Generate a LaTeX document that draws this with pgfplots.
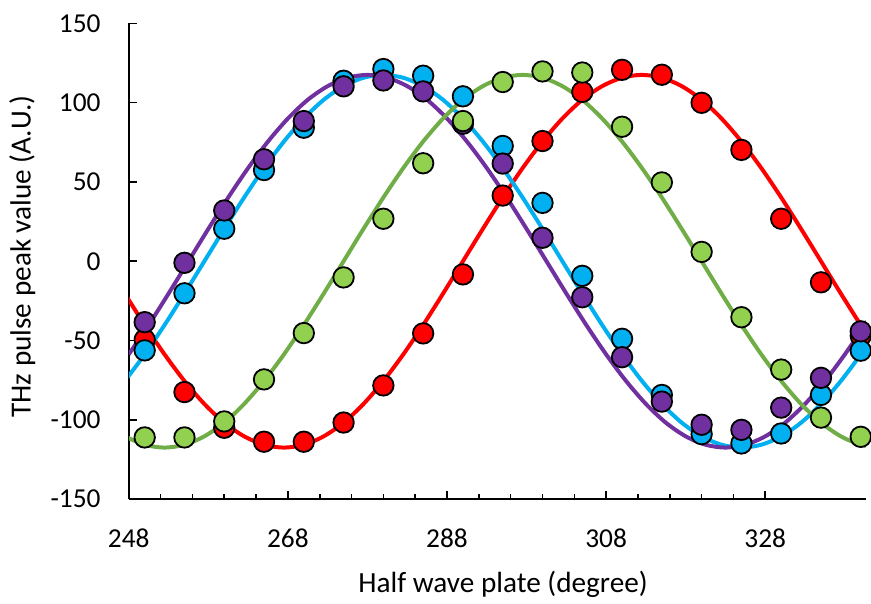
\documentclass[border=0pt]{standalone}
\usepackage{fontspec}
\setmainfont{Carlito}
\usepackage{pgfplots}
\pgfplotsset{compat=1.18}
\definecolor{cred}{HTML}{FF0000}
\definecolor{cgreen}{HTML}{92D050}
\definecolor{cgreenl}{HTML}{70AD47}
\definecolor{cblue}{HTML}{00B0F0}
\definecolor{cpurple}{HTML}{7030A0}
\pgfplotsset{
  dot/.style={only marks, mark=*, mark size=5.15pt, mark options={draw=black, line width=0.9pt, fill=#1}},
  fit/.style={#1, line width=2pt, smooth, no marks}
}
\begin{document}
\begin{tikzpicture}
\begin{axis}[
  scale only axis, width=370.5pt, height=239.25pt,
  xmin=248, xmax=340.6, ymin=-150, ymax=150,
  axis x line*=bottom, axis y line*=left,
  axis line style={line width=1pt, -},
  xtick={248,268,...,328}, minor x tick num=4,
  ytick={-150,-100,...,150},
  tick align=inside,
  major tick length=4pt, minor tick length=2.5pt,
  every tick/.style={black, line width=0.8pt},
  tick label style={font=\fontsize{13.75}{16}\selectfont},
  /pgf/number format/assume math mode=true,
  yticklabel style={anchor=east, inner sep=0pt, xshift=-14pt},
  xticklabel style={anchor=north, inner sep=0pt, yshift=-14.85pt},
  clip mode=individual,
]
% fitted curves
\addplot[fit=cred] coordinates {
(247.5,-20.4)(250,-40.2)(252.5,-58.75)(255,-75.5)(257.5,-90.0)(260,-101.8)(262.5,-110.4)(265,-115.7)(267.5,-117.5)(270,-115.7)(272.5,-110.4)(275,-101.8)(277.5,-90.0)(280,-75.5)(282.5,-58.75)(285,-40.2)(287.5,-20.4)(290,0)(292.5,20.4)(295,40.2)(297.5,58.75)(300,75.5)(302.5,90.0)(305,101.8)(307.5,110.4)(310,115.7)(312.5,117.5)(315,115.7)(317.5,110.4)(320,101.8)(322.5,90.0)(325,75.5)(327.5,58.75)(330,40.2)(332.5,20.4)(335,0)(337.5,-20.4)(340,-40.2)(342.5,-58.75)};
\addplot[fit=cblue] coordinates {
(247.5,-75.5)(250,-58.75)(252.5,-40.2)(255,-20.4)(257.5,0)(260,20.4)(262.5,40.2)(265,58.75)(267.5,75.5)(270,90.0)(272.5,101.8)(275,110.4)(277.5,115.7)(280,117.5)(282.5,115.7)(285,110.4)(287.5,101.8)(290,90.0)(292.5,75.5)(295,58.75)(297.5,40.2)(300,20.4)(302.5,0)(305,-20.4)(307.5,-40.2)(310,-58.75)(312.5,-75.5)(315,-90.0)(317.5,-101.8)(320,-110.4)(322.5,-115.7)(325,-117.5)(327.5,-115.7)(330,-110.4)(332.5,-101.8)(335,-90.0)(337.5,-75.5)(340,-58.75)(342.5,-40.2)};
\addplot[fit=cpurple] coordinates {
(248,-58.75)(250.5,-40.2)(253,-20.4)(255.5,0)(258,20.4)(260.5,40.2)(263,58.75)(265.5,75.5)(268,90.0)(270.5,101.8)(273,110.4)(275.5,115.7)(278,117.5)(280.5,115.7)(283,110.4)(285.5,101.8)(288,90.0)(290.5,75.5)(293,58.75)(295.5,40.2)(298,20.4)(300.5,0)(303,-20.4)(305.5,-40.2)(308,-58.75)(310.5,-75.5)(313,-90.0)(315.5,-101.8)(318,-110.4)(320.5,-115.7)(323,-117.5)(325.5,-115.7)(328,-110.4)(330.5,-101.8)(333,-90.0)(335.5,-75.5)(338,-58.75)(340.5,-40.2)(343,-20.4)};
\addplot[fit=cgreenl] coordinates {
(247.5,-110.4)(250,-115.7)(252.5,-117.5)(255,-115.7)(257.5,-110.4)(260,-101.8)(262.5,-90.0)(265,-75.5)(267.5,-58.75)(270,-40.2)(272.5,-20.4)(275,0)(277.5,20.4)(280,40.2)(282.5,58.75)(285,75.5)(287.5,90.0)(290,101.8)(292.5,110.4)(295,115.7)(297.5,117.5)(300,115.7)(302.5,110.4)(305,101.8)(307.5,90.0)(310,75.5)(312.5,58.75)(315,40.2)(317.5,20.4)(320,0)(322.5,-20.4)(325,-40.2)(327.5,-58.75)(330,-75.5)(332.5,-90.0)(335,-101.8)(337.5,-110.4)(340,-115.7)(342.5,-117.5)};
% measured points
\addplot[dot=cred] coordinates {
(250,-49.5)(255,-82.5)(260,-105)(265,-113.8)(270,-113.8)(275,-101.7)(280,-78.3)(285,-45.5)(290,-8.3)(295,41.4)(300,75.8)(305,106.8)(310,120.7)(315,117.6)(320,99.9)(325,70.2)(330,26.8)(335,-13.3)(340,-47)};
\addplot[dot=cblue] coordinates {
(250,-56.2)(255,-20.2)(260,20.5)(265,57.5)(270,84.2)(275,113.8)(280,121.2)(285,117)(290,104)(295,72.7)(300,36.8)(305,-9.2)(310,-48.9)(315,-84.3)(320,-109)(325,-114.9)(330,-108.6)(335,-84.3)(340,-56.4)};
\addplot[dot=cpurple] coordinates {
(250,-38.4)(255,-1)(260,32)(265,64.3)(270,88.4)(275,110.3)(280,114)(285,107.1)(290,86.7)(295,61.6)(300,14.8)(305,-22.7)(310,-60.5)(315,-88.5)(320,-103.1)(325,-106.3)(330,-92.3)(335,-73.5)(340,-44.2)};
\addplot[dot=cgreen] coordinates {
(250,-111.1)(255,-111.1)(260,-101)(265,-74.5)(270,-45.3)(275,-10.2)(280,26.8)(285,61.8)(290,88.4)(295,113)(300,119.7)(305,119)(310,84.8)(315,49.7)(320,5.9)(325,-35.3)(330,-68.3)(335,-98.6)(340,-110.7)};
\end{axis}
\node[anchor=base, font=\fontsize{14.7}{17}\selectfont] at ([yshift=-46.85pt, xshift=3pt]current axis.south) {Half wave plate (degree)};
\node[rotate=90, anchor=base, font=\fontsize{14.7}{17}\selectfont] at ([xshift=-49.4pt, yshift=2.4pt]current axis.west) {THz pulse peak value (A.U.)};
\path[use as bounding box] ([xshift=-64.75pt, yshift=-49pt]current axis.south west) rectangle ([xshift=0.2pt, yshift=11.75pt]current axis.north east);
\end{tikzpicture}
\end{document}
